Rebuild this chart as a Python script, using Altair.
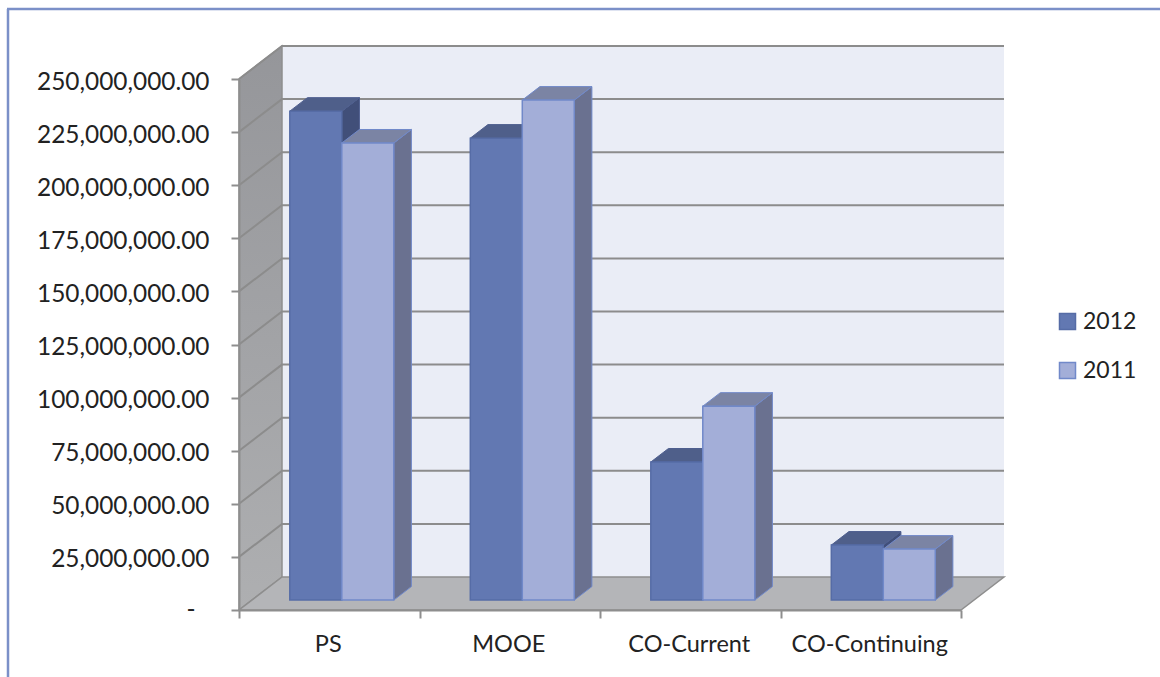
import altair as alt
import pandas as pd

categories = ["PS", "MOOE", "CO-Current", "CO-Continuing"]
values_2012 = [230200000, 217500000, 65000000, 25900000]
values_2011 = [215200000, 235400000, 91300000, 24000000]
tick_values = list(range(0, 250000001, 25000000))

# Oblique projection: moving one full depth unit shifts a point along both axes.
DEPTH_X = 43 / 180.5
DEPTH_Y = 33 / 531 * 250000000
BAR_GAP = 0.21
BAR_WIDTH = 0.288
DEPTH_NEAR = 0.30
DEPTH_FAR = 0.71

FONT = "Lato"
x_scale = alt.Scale(domain=[0, 4], nice=False, zero=False)
y_scale = alt.Scale(domain=[0, 250000000], nice=False, zero=False)
year_scale = alt.Scale(domain=["2012", "2011"], range=["#6278b2", "#a3aed8"])
year_stroke_scale = alt.Scale(domain=["2012", "2011"], range=["#566ca6", "#7189c9"])

# Both axes sit on the front plane and every layer shares them
x_axis = alt.Axis(
    values=[0, 1, 2, 3, 4], labels=False, title=None, grid=False,
    domainColor="#8e8e8e", domainWidth=2, tickColor="#8e8e8e", tickWidth=2, tickSize=8,
    zindex=1,
)
y_axis = alt.Axis(
    values=tick_values, title=None, grid=False,
    # zero gets its own accounting-style dash, drawn as a separate text layer below
    labelExpr="datum.value == 0 ? '' : format(datum.value, ',.2f')",
    labelFont=FONT, labelFontSize=24.4, labelColor="#222222", labelPadding=22, labelOffset=3,
    domainColor="#8e8e8e", domainWidth=2, tickColor="#8e8e8e", tickWidth=2, tickSize=8,
    zindex=1,
)


def X(field="x"):
    return alt.X(f"{field}:Q", scale=x_scale, axis=x_axis)


def Y(field="y"):
    return alt.Y(f"{field}:Q", scale=y_scale, axis=y_axis)


# Walls and floor of the box
wall = alt.Chart(pd.DataFrame([{
    "x": DEPTH_X, "x2": 4 + DEPTH_X, "y": DEPTH_Y, "y2": 250000000 + DEPTH_Y
}])).mark_rect(color="#eaedf6").encode(
    x=X(), x2="x2:Q", y=Y(), y2="y2:Q"
)

side_wall = alt.Chart(pd.DataFrame([
    {"x": 0, "y": 0, "y2": 250000000},
    {"x": DEPTH_X, "y": DEPTH_Y, "y2": 250000000 + DEPTH_Y},
])).mark_area(
    fill=alt.Gradient(
        gradient="linear", x1=0, y1=0, x2=0, y2=1,
        stops=[alt.GradientStop(offset=0, color="#95969a"),
               alt.GradientStop(offset=1, color="#aeafb1")],
    ),
    stroke="#8e8e8e", strokeWidth=1.5,
).encode(x=X(), y=Y(), y2="y2:Q")

floor = alt.Chart(pd.DataFrame([
    {"y": 0, "x": 0, "x2": 4},
    {"y": DEPTH_Y, "x": DEPTH_X, "x2": 4 + DEPTH_X},
])).mark_area(orient="horizontal", color="#b4b5b8", stroke="#8e8e8e", strokeWidth=1.5).encode(
    y=Y(), x=X(), x2="x2:Q"
)

# Gridlines run along the side wall and across the back wall
grid_rows = []
for t in tick_values[1:]:
    grid_rows += [
        {"tick": t, "x": 0, "y": t},
        {"tick": t, "x": DEPTH_X, "y": t + DEPTH_Y},
        {"tick": t, "x": 4 + DEPTH_X, "y": t + DEPTH_Y},
    ]
grid = alt.Chart(pd.DataFrame(grid_rows)).mark_line(color="#8c8c8c", strokeWidth=2).encode(
    x=X(), y=Y(), detail="tick:N"
)


def bar_layers(year, values, offset, top_color, side_color, edge_color):
    fronts, tops, sides = [], [], []
    for i, v in enumerate(values):
        x0 = i + BAR_GAP + offset * BAR_WIDTH
        x1 = x0 + BAR_WIDTH
        fronts.append({
            "year": year,
            "x": x0 + DEPTH_NEAR * DEPTH_X, "x2": x1 + DEPTH_NEAR * DEPTH_X,
            "y": DEPTH_NEAR * DEPTH_Y, "y2": v + DEPTH_NEAR * DEPTH_Y,
        })
        for d in (DEPTH_NEAR, DEPTH_FAR):
            tops.append({
                "bar": i, "y": v + d * DEPTH_Y,
                "x": x0 + d * DEPTH_X, "x2": x1 + d * DEPTH_X,
            })
            sides.append({
                "bar": i, "x": x1 + d * DEPTH_X,
                "y": d * DEPTH_Y, "y2": v + d * DEPTH_Y,
            })
    side = alt.Chart(pd.DataFrame(sides)).mark_area(
        color=side_color, stroke=edge_color, strokeWidth=1
    ).encode(x=X(), y=Y(), y2="y2:Q", detail="bar:N")
    top = alt.Chart(pd.DataFrame(tops)).mark_area(
        orient="horizontal", color=top_color, stroke=edge_color, strokeWidth=1
    ).encode(y=Y(), x=X(), x2="x2:Q", detail="bar:N")
    legend = alt.Legend(
        title=None, orient="none", legendX=817, legendY=231,
        symbolType="square", symbolSize=256, symbolStrokeWidth=1.5,
        labelFont=FONT, labelFontSize=23, labelColor="#222222",
        rowPadding=25, labelOffset=4,
    )
    front = alt.Chart(pd.DataFrame(fronts)).mark_rect(strokeWidth=1.5).encode(
        x=X(), x2="x2:Q", y=Y(), y2="y2:Q",
        color=alt.Color("year:N", scale=year_scale, legend=legend),
        stroke=alt.Stroke("year:N", scale=year_stroke_scale, legend=legend),
    )
    return [side, top, front]


bars_2012 = bar_layers("2012", values_2012, 0, "#4f5f8a", "#414f79", "#4f5f8f")
bars_2011 = bar_layers("2011", values_2011, 1, "#7b84a4", "#6a7190", "#7189c9")

category_labels = alt.Chart(pd.DataFrame({
    "name": categories, "x": [i + 0.5 for i in range(len(categories))]
})).mark_text(font=FONT, fontSize=23.5, color="#222222", baseline="middle", dx=-1).encode(
    x=X(), y=alt.value(566), text="name:N"
)

zero_dash = alt.Chart(pd.DataFrame({"x": [0], "y": [0], "label": ["-"]})).mark_text(
    font=FONT, fontSize=24.4, color="#222222", baseline="middle", align="center", dx=-48, dy=1
).encode(x=X(), y=Y(), text="label:N")

# Thin frame around the chart
frame_top = alt.Chart(pd.DataFrame({"a": [0]})).mark_rule(color="#7b90c8", strokeWidth=2.5).encode(
    x=alt.value(-232), x2=alt.value(921), y=alt.value(-70)
)
frame_left = alt.Chart(pd.DataFrame({"a": [0]})).mark_rule(color="#7b90c8", strokeWidth=2.5).encode(
    x=alt.value(-231), y=alt.value(-70), y2=alt.value(598)
)

chart = alt.layer(
    wall, side_wall, floor, grid, *bars_2012, *bars_2011, category_labels, zero_dash,
    frame_top, frame_left,
).resolve_scale(color="shared", stroke="shared").properties(
    width=722, height=531,
    padding={"left": 239, "top": 79, "right": 199, "bottom": 67},
    autosize=alt.AutoSizeParams(type="none"),
    background="white",
).configure_view(stroke=None)

chart.save("out.html", embed_options={"renderer": "svg", "actions": False})
